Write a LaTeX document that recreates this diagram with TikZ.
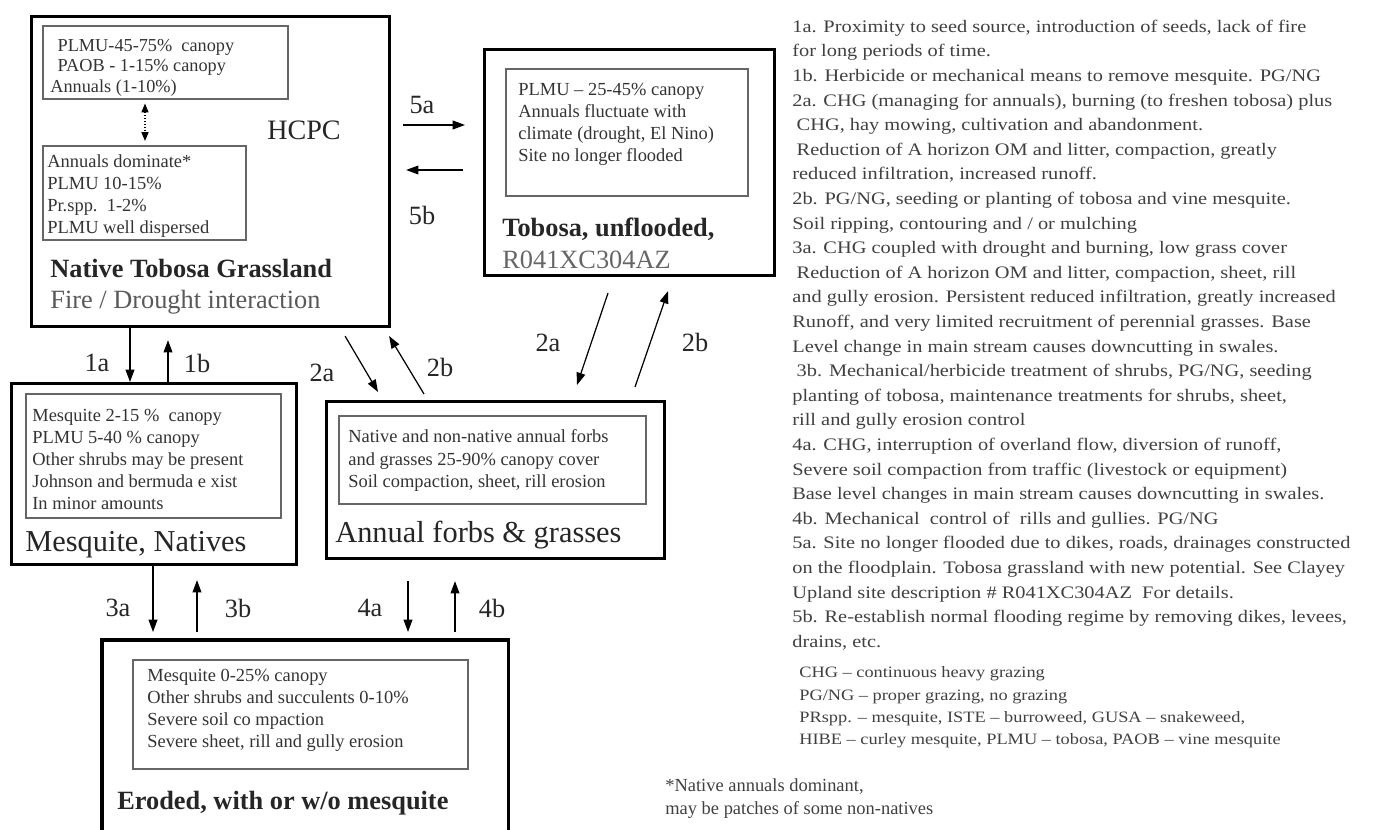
\documentclass[tikz,border=0pt]{standalone}
\usepackage{fontspec}
\setmainfont{Liberation Serif}
\newfontfamily\notefont[FakeStretch=1.16,Ligatures=TeX]{Liberation Serif}
\usetikzlibrary{arrows.meta,calc}

\tikzset{
  outerbox/.style={draw=black, line width=1.8pt, anchor=north west, inner sep=0pt},
  innerbox/.style={draw=black!60, line width=0.9pt, anchor=north west, inner sep=0pt},
  boxtxt/.style={anchor=west, align=left, inner sep=0pt, text=black!80},
  bigtxt/.style={anchor=west, inner sep=0pt, text=black!85},
  notetxt/.style={anchor=west, align=left, inner sep=0pt, text=black!75},
  lbl/.style={font=\fontsize{15}{18}\selectfont, text=black!85, inner sep=0pt},
  arr/.style={line width=0.7pt, -{Triangle[length=7pt,width=5pt]}}
}

\begin{document}
\begin{tikzpicture}[x=0.02cm, y=-0.02cm]
      \useasboundingbox (0,0) rectangle (1374,830);

      % state boxes
      \node[outerbox, minimum width=7.16cm, minimum height=6.2cm] (native) at (30,15) {};
      \node[outerbox, minimum width=5.8cm, minimum height=4.52cm] (tobosa) at (483,48) {};
      \node[outerbox, minimum width=5.7cm, minimum height=3.62cm] (mesq) at (10,382) {};
      \node[outerbox, minimum width=6.76cm, minimum height=3.14cm] (annual) at (325,400) {};
      \node[anchor=north west, inner sep=0pt, minimum width=8.12cm, minimum height=3.9cm] (eroded) at (102,640) {};
      \draw[line width=1.8pt] (eroded.south west) |- (eroded.north east) -- (eroded.south east);

      % community boxes
      \node[innerbox, minimum width=4.9cm, minimum height=1.46cm] (nat1) at (42,25) {};
      \node[innerbox, minimum width=4.06cm, minimum height=1.88cm] (nat2) at (42,145) {};
      \node[innerbox, minimum width=4.84cm, minimum height=2.54cm] (tob1) at (505,68) {};
      \node[innerbox, minimum width=5.1cm, minimum height=2.48cm] (mesq1) at (25,393) {};
      \node[innerbox, minimum width=6.14cm, minimum height=1.76cm] (ann1) at (338,415) {};
      \node[innerbox, minimum width=6.7cm, minimum height=2.18cm] (ero1) at (132,659) {};

      \node[boxtxt, font=\fontsize{10.4}{11.7}\selectfont] (nat1t) at (50,67.5)
        {\hspace*{0.4em}PLMU-45-75\%\ \ canopy\\\hspace*{0.4em}PAOB - 1-15\% canopy\\Annuals (1-10\%)};
      \node[boxtxt, font=\fontsize{10.5}{12.5}\selectfont] (nat2t) at (47,196)
        {Annuals dominate*\\PLMU 10-15\%\\Pr.spp.\ \ 1-2\%\\PLMU well dispersed};
      \node[boxtxt, font=\fontsize{10.5}{12.5}\selectfont] (tob1t) at (518,124.5)
        {PLMU -- 25-45\% canopy\\Annuals fluctuate with\\climate (drought, El Nino)\\Site no longer flooded};
      \node[boxtxt, font=\fontsize{10.5}{12.4}\selectfont] (mesq1t) at (32,459.5)
        {Mesquite 2-15 \%\ \ canopy\\PLMU 5-40 \% canopy\\Other shrubs may be present\\Johnson and bermuda e xist\\In minor amounts};
      \node[boxtxt, font=\fontsize{10.5}{12.8}\selectfont] (ann1t) at (348,460.5)
        {Native and non-native annual forbs\\and grasses 25-90\% canopy cover\\Soil compaction, sheet, rill erosion};
      \node[boxtxt, font=\fontsize{10.5}{12.5}\selectfont] (ero1t) at (147,710)
        {Mesquite 0-25\% canopy\\Other shrubs and succulents 0-10\%\\Severe soil co mpaction\\Severe sheet, rill and gully erosion};

      % state names
      \node[bigtxt, font=\fontsize{16}{19}\selectfont, anchor=center] (hcpc) at (304,130) {HCPC};
      \node[bigtxt, font=\fontsize{15}{18}\selectfont\bfseries] (natname) at (50,268) {Native Tobosa Grassland};
      \node[bigtxt, font=\fontsize{15}{18}\selectfont, text=black!65] (natsub) at (50,302) {Fire / Drought interaction};
      \node[bigtxt, font=\fontsize{15}{18}\selectfont\bfseries] (tobname) at (502,229) {Tobosa, unflooded,};
      \node[bigtxt, font=\fontsize{15}{18}\selectfont, text=black!60] (tobsub) at (502,260) {R041XC304AZ};
      \node[bigtxt, font=\fontsize{17.3}{20}\selectfont] (mesqname) at (25,545) {Mesquite, Natives};
      \node[bigtxt, font=\fontsize{17.3}{20}\selectfont] (annname) at (335,535) {Annual forbs \& grasses};
      \node[bigtxt, font=\fontsize{15}{18}\selectfont\bfseries] (eroname) at (117,803) {Eroded, with or w/o mesquite};

      % pathways
      \draw[line width=0.7pt, densely dotted, {Triangle[length=5pt,width=4pt]}-{Triangle[length=5pt,width=4pt]}]
        ($(nat1.south west)+(103,4)$) -- ($(nat2.north west)+(103,-4)$);
      \draw[arr] ($(native.south west)+(100,0)$) -- ($(mesq.north west)+(120,0)$);
      \draw[arr] ($(mesq.north west)+(158,0)$) -- ($(native.south west)+(138,12)$);
      \draw[arr] ($(mesq.south west)+(143,0)$) -- ($(eroded.north west)+(51,-8)$);
      \draw[arr] ($(eroded.north west)+(95,-8)$) -- ($(mesq.south west)+(187,14)$);
      \draw[arr] ($(annual.south west)+(83,21)$) -- ($(eroded.north west)+(306,-8)$);
      \draw[arr] ($(eroded.north west)+(353,-8)$) -- ($(annual.south west)+(130,21)$);
      \draw[arr] ($(native.north east)+(12,110)$) -- ($(tobosa.north west)+(-18,77)$);
      \draw[arr] ($(tobosa.north west)+(-20,122)$) -- ($(native.north east)+(15,155)$);
      \draw[arr] ($(native.south east)+(-46,8)$) -- ($(annual.north west)+(53,-8)$);
      \draw[arr] ($(annual.north west)+(99,-6)$) -- ($(native.south east)+(-2,8)$);
      \draw[arr] ($(tobosa.south west)+(125,16)$) -- ($(annual.north west)+(252,-15)$);
      \draw[arr] ($(annual.north west)+(310,-13)$) -- ($(tobosa.south west)+(185,14)$);

      \node[lbl] (l1a) at (97,363) {1a};
      \node[lbl] (l1b) at (197,363) {1b};
      \node[lbl] (l5a) at (422,105) {5a};
      \node[lbl] (l5b) at (422,215) {5b};
      \node[lbl] (l2aw) at (322,373) {2a};
      \node[lbl] (l2bw) at (440,367) {2b};
      \node[lbl] (l2ae) at (548,343) {2a};
      \node[lbl] (l2be) at (695,342) {2b};
      \node[lbl] (l3a) at (118,608) {3a};
      \node[lbl] (l3b) at (238,608) {3b};
      \node[lbl] (l4a) at (370,608) {4a};
      \node[lbl] (l4b) at (492,608) {4b};

      % transition notes
      \node[notetxt, font=\notefont\fontsize{10}{14}\selectfont] (notes) at (792,335)
        {1a. Proximity to seed source, introduction of seeds, lack of fire\\
         for long periods of time.\\
         1b. Herbicide or mechanical means to remove mesquite. PG/NG\\
         2a. CHG (managing for annuals), burning (to freshen tobosa) plus\\
         \hspace*{0.25em}CHG, hay mowing, cultivation and abandonment.\\
         \hspace*{0.25em}Reduction of A horizon OM and litter, compaction, greatly\\
         reduced infiltration, increased runoff.\\
         2b. PG/NG, seeding or planting of tobosa and vine mesquite.\\
         Soil ripping, contouring and / or mulching\\
         3a. CHG coupled with drought and burning, low grass cover\\
         \hspace*{0.25em}Reduction of A horizon OM and litter, compaction, sheet, rill\\
         and gully erosion. Persistent reduced infiltration, greatly increased\\
         Runoff, and very limited recruitment of perennial grasses. Base\\
         Level change in main stream causes downcutting in swales.\\
         \hspace*{0.25em}3b. Mechanical/herbicide treatment of shrubs, PG/NG, seeding\\
         planting of tobosa, maintenance treatments for shrubs, sheet,\\
         rill and gully erosion control\\
         4a. CHG, interruption of overland flow, diversion of runoff,\\
         Severe soil compaction from traffic (livestock or equipment)\\
         Base level changes in main stream causes downcutting in swales.\\
         4b. Mechanical\ \ control of\ \ rills and gullies. PG/NG\\
         5a. Site no longer flooded due to dikes, roads, drainages constructed\\
         on the floodplain. Tobosa grassland with new potential. See Clayey\\
         Upland site description \# R041XC304AZ\ \ For details.\\
         5b. Re-establish normal flooding regime by removing dikes, levees,\\
         drains, etc.};
      \node[notetxt, font=\notefont\fontsize{9}{12.7}\selectfont] (legend) at (799,707.5)
        {CHG -- continuous heavy grazing\\
         PG/NG -- proper grazing, no grazing\\
         PRspp. -- mesquite, ISTE -- burroweed, GUSA -- snakeweed,\\
         HIBE -- curley mesquite, PLMU -- tobosa, PAOB -- vine mesquite};
      \node[notetxt, font=\fontsize{10.5}{13}\selectfont] (footnote) at (665,799)
        {*Native annuals dominant,\\may be patches of some non-natives};

\end{tikzpicture}
\end{document}
